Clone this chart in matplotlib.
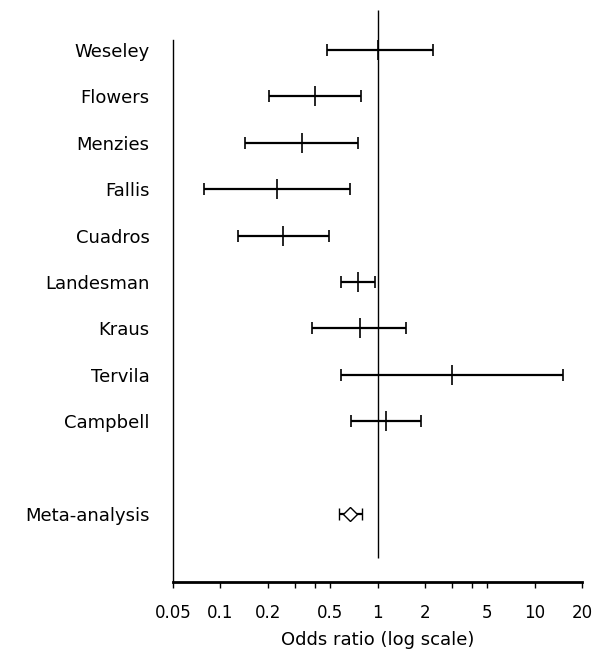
import numpy as np
import matplotlib
matplotlib.use("Agg")
import matplotlib.pyplot as plt
from matplotlib.ticker import FixedLocator, NullFormatter

# ------------------------------------------------------------------ #
# Data                                #
# ------------------------------------------------------------------ #
studies = ["Weseley", "Flowers", "Menzies", "Fallis", "Cuadros",
           "Landesman", "Kraus", "Tervila", "Campbell"]
odds_ratio = [1.0, 0.40, 0.33, 0.23, 0.25, 0.75, 0.77, 3.0, 1.14]
ci_low = [0.48, 0.205, 0.144, 0.079, 0.13, 0.59, 0.385, 0.59, 0.68]
ci_high = [2.27, 0.78, 0.75, 0.67, 0.49, 0.96, 1.51, 15.1, 1.88]

meta_label = "Meta-analysis"
meta_or = 0.67
meta_low = 0.565
meta_high = 0.80

tick_values = [0.05, 0.1, 0.2, 0.5, 1, 2, 5, 10, 20]
tick_labels = ["0.05", "0.1", "0.2", "0.5", "1", "2", "5", "10", "20"]
minor_ticks = [0.3, 0.4, 3, 4]

# ------------------------------------------------------------------ #
# Figure                                                               #
# ------------------------------------------------------------------ #
plt.rcParams['font.family'] = ['DejaVu Sans']
fig = plt.figure(figsize=(5.95, 6.57), dpi=100)
ax = fig.add_axes([173 / 595, 75 / 657, (582 - 173) / 595, (582 - 10) / 657])

y_study = np.arange(len(studies))
y_meta = len(studies) + 1

err = [np.array(odds_ratio) - np.array(ci_low),
       np.array(ci_high) - np.array(odds_ratio)]
ax.errorbar(odds_ratio, y_study, xerr=err, fmt='|', color='black',
            ecolor='black', elinewidth=1.6, capsize=4, capthick=1.2,
            markersize=14, markeredgewidth=1.2)

ax.errorbar([meta_or], [y_meta],
            xerr=[[meta_or - meta_low], [meta_high - meta_or]],
            fmt='D', color='black', mfc='white', mec='black',
            elinewidth=1.6, capsize=4, capthick=1.2, markersize=7,
            markeredgewidth=1.0)

# reference line at odds ratio 1
ax.vlines(1, -0.87, 10.95, color='black', linewidth=1.0)

ax.set_xscale('log')
ax.set_xlim(0.05, 20)
ax.set_ylim(11.466, -0.862)

ax.xaxis.set_major_locator(FixedLocator(tick_values))
ax.set_xticklabels(tick_labels)
ax.xaxis.set_minor_locator(FixedLocator(minor_ticks))
ax.xaxis.set_minor_formatter(NullFormatter())
ax.tick_params(axis='x', which='both', direction='out', length=4,
               width=1.0, labelsize=12, pad=12)

ax.set_yticks(list(y_study) + [y_meta])
ax.set_yticklabels(studies + [meta_label], fontsize=13)
ax.tick_params(axis='y', length=0, pad=17)

for side in ['top', 'right']:
    ax.spines[side].set_visible(False)
ax.spines['left'].set_bounds(-0.22, 11.466)
ax.spines['bottom'].set_linewidth(2.0)
ax.spines['left'].set_linewidth(1.0)

ax.set_xlabel("Odds ratio (log scale)", fontsize=13, labelpad=6)

fig.savefig("out.png", dpi=100)
